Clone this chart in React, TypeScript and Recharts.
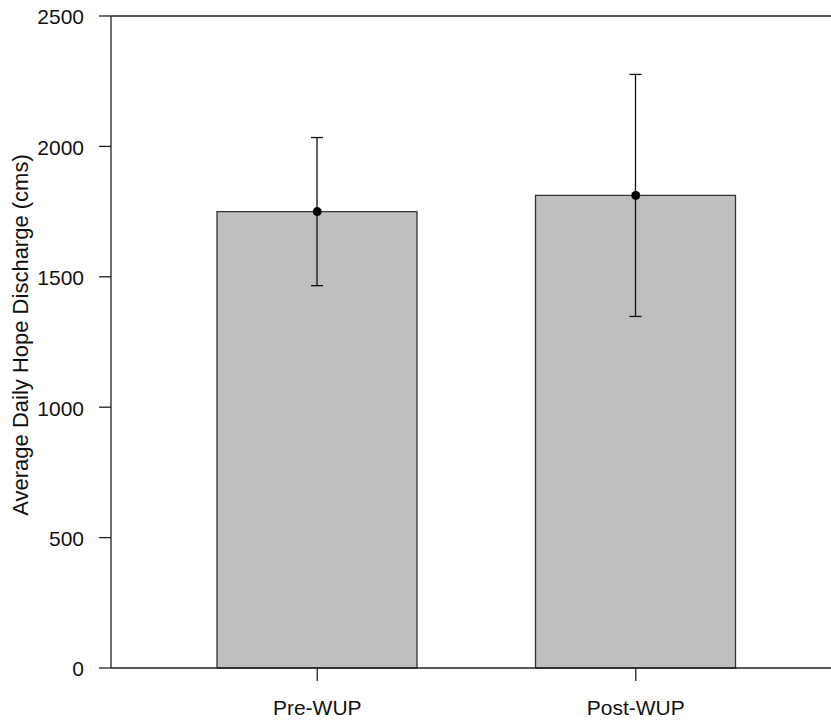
import React from "react";
import {
  ComposedChart,
  Bar,
  Line,
  XAxis,
  YAxis,
  ErrorBar,
  ReferenceLine,
  Label,
} from "recharts";

const periods = ["Pre-WUP", "Post-WUP"];
const meanDischarge = [1750, 1812];
const errDischarge = [284, 464];
const yTicks = [0, 500, 1000, 1500, 2000, 2500];

const data = periods.map((p, i) => ({
  period: p,
  mean: meanDischarge[i],
  err: errDischarge[i],
}));

const font = "'Liberation Sans', Arial, sans-serif";

export default function App() {
  return (
    <div
      style={{
        position: "absolute",
        left: 0,
        top: 0,
        width: 831,
        height: 724,
        overflow: "hidden",
        background: "#fff",
        fontFamily: font,
      }}
    >
      <ComposedChart
        width={831}
        height={724}
        data={data}
        margin={{ top: 16, right: 0, bottom: 0, left: 0 }}
      >
        <XAxis
          dataKey="period"
          height={56}
          padding={{ left: 47, right: 36 }}
          stroke="#222"
          strokeWidth={1.3}
          tickSize={13}
          tickMargin={19}
          tick={{ fontSize: 21, fill: "#111", fontFamily: font }}
        />
        <YAxis
          width={111}
          domain={[0, 2500]}
          ticks={yTicks}
          interval={0}
          stroke="#222"
          strokeWidth={1.3}
          tickSize={12}
          tickMargin={15}
          tick={{ fontSize: 21, fill: "#111", fontFamily: font, dy: 1 }}
        >
          <Label
            content={({ viewBox }: any) => {
              const cx = viewBox.x + 28;
              const cy = viewBox.y + viewBox.height / 2 - 7;
              return (
                <text
                  x={cx}
                  y={cy}
                  transform={`rotate(-90 ${cx} ${cy})`}
                  textAnchor="middle"
                  fontSize={22}
                  fill="#111"
                  fontFamily={font}
                >
                  Average Daily Hope Discharge (cms)
                </text>
              );
            }}
          />
        </YAxis>
        <ReferenceLine y={2500} stroke="#222" strokeWidth={1.3} />
        <Bar
          dataKey="mean"
          barSize={200}
          fill="#bfbfbf"
          stroke="#333"
          strokeWidth={1.3}
          isAnimationActive={false}
        >
          <ErrorBar
            dataKey="err"
            width={6}
            stroke="#111"
            strokeWidth={1.3}
            direction="y"
          />
        </Bar>
        <Line
          dataKey="mean"
          stroke="none"
          dot={{ r: 4.5, fill: "#000", stroke: "none" }}
          activeDot={false}
          isAnimationActive={false}
        />
      </ComposedChart>
    </div>
  );
}
